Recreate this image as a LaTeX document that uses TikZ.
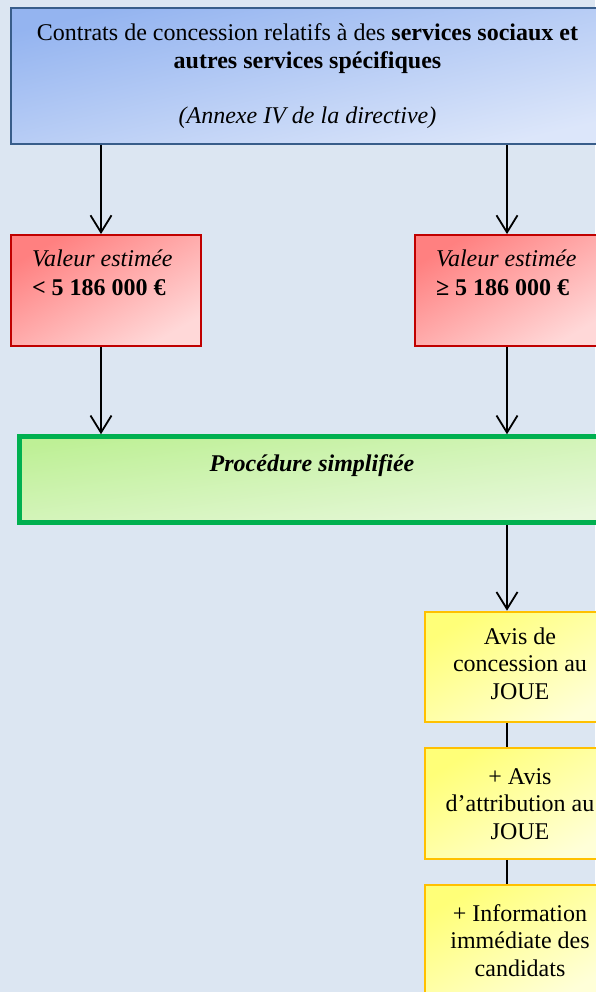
\documentclass[tikz,border=0pt]{standalone}
\usepackage{fontspec}
\setmainfont{Liberation Serif}
\usetikzlibrary{arrows.meta, positioning}
\definecolor{fond}{HTML}{DCE6F2}
\definecolor{bleucadre}{HTML}{385D8A}
\definecolor{bleuhaut}{HTML}{94B4F0}
\definecolor{bleubas}{HTML}{DCE6FA}
\definecolor{rougecadre}{HTML}{C00000}
\definecolor{rougehaut}{HTML}{FF8080}
\definecolor{rougebas}{HTML}{FFD8D8}
\definecolor{vertcadre}{HTML}{00B050}
\definecolor{verthaut}{HTML}{BEF096}
\definecolor{vertbas}{HTML}{E8F8DC}
\definecolor{jaunecadre}{HTML}{FFC000}
\definecolor{jaunehaut}{HTML}{FFFF78}
\definecolor{jaunebas}{HTML}{FFFFD8}
\newcommand{\cadre}[4]{\parbox[c][#2][t]{#1}{\rule{0pt}{#3}#4}}

\begin{document}
\begin{tikzpicture}[x=1pt, y=-1pt,
    box/.style n args={4}{rectangle, draw=#1, top color=#2, bottom color=#3, shading angle=#4, line width=2pt, inner sep=0pt},
    arr/.style={-{Straight Barb[length=17pt, width=21pt]}, line width=1.8pt},
    lien/.style={line width=1.8pt},
    every node/.style={font=\fontsize{24}{27.5}\selectfont},
  ]
  \path[use as bounding box, fill=fond] (0,0) rectangle (595,992);

  % Nodes
  \node[box={bleucadre}{bleuhaut}{bleubas}{13}] (contrats) at (307.5,76.2) {\cadre{593pt}{135.7pt}{32.4pt}{\centering Contrats de concession relatifs à des \textbf{services sociaux et}\\ \textbf{autres services spécifiques}\\[27.5pt] \textit{(Annexe IV de la directive)}}};
  \node[box={rougecadre}{rougehaut}{rougebas}{30}] (valbas) at (106,290.4) {\cadre{190pt}{110.7pt}{31.7pt}{\raggedright\leftskip=21pt\relax\textit{Valeur estimée}\\[1.5pt]\textbf{< 5 186 000 €}}};
  \node[box={rougecadre}{rougehaut}{rougebas}{30}, right=212pt of valbas] (valhaut) {\cadre{190pt}{110.7pt}{31.7pt}{\raggedright\leftskip=21pt\relax\textit{Valeur estimée}\\[1.5pt]\textbf{≥ 5 186 000 €}}};
  \node[box={vertcadre}{verthaut}{vertbas}{8}, line width=5pt] (proc) at (312,479.6) {\cadre{585pt}{85.7pt}{35pt}{\centering\textbf{\textit{Procédure simplifiée}}}};
  \node[box={jaunecadre}{jaunehaut}{jaunebas}{30}] (avis1) at (520,667) {\cadre{190pt}{110.6pt}{32.3pt}{\centering Avis de\\concession au\\JOUE}};
  \node[box={jaunecadre}{jaunehaut}{jaunebas}{30}, below=24pt of avis1] (avis2) {\cadre{190pt}{110.6pt}{35.7pt}{\centering + Avis\\d’attribution au\\JOUE}};
  \node[box={jaunecadre}{jaunehaut}{jaunebas}{30}, below=24pt of avis2] (avis3) {\cadre{190pt}{110.6pt}{36.3pt}{\centering + Information\\immédiate des\\candidats}};

  % Columns of the connectors
  \coordinate (colg) at (101,0);
  \coordinate (cold) at (507,0);

  % Arrows
  \draw[arr] (contrats.south -| colg) -- (valbas.north -| colg);
  \draw[arr] (contrats.south -| cold) -- (valhaut.north -| cold);
  \draw[arr] (valbas.south -| colg) -- (proc.north -| colg);
  \draw[arr] (valhaut.south -| cold) -- (proc.north -| cold);
  \draw[arr] (proc.south -| cold) -- (avis1.north -| cold);
  \draw[lien] (avis1.south -| cold) -- (avis2.north -| cold);
  \draw[lien] (avis2.south -| cold) -- (avis3.north -| cold);
\end{tikzpicture}
\end{document}
